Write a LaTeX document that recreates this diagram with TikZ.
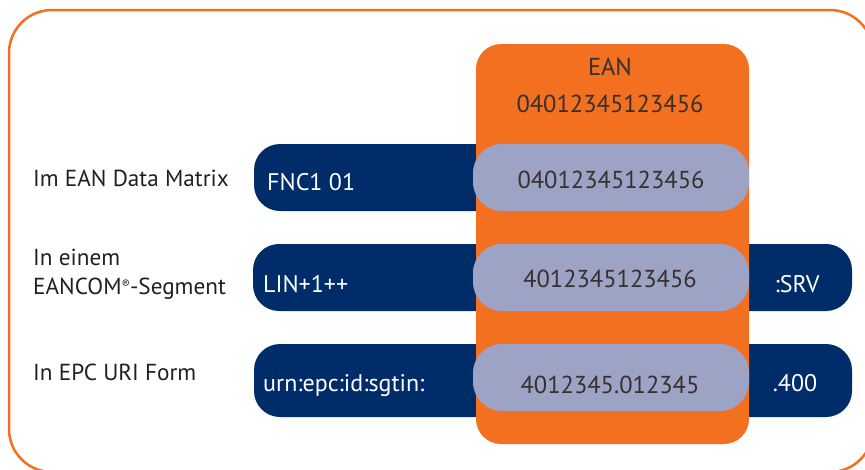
\documentclass[tikz,border=0pt]{standalone}
\usepackage{fontspec}
\setmainfont{PT Sans}
\definecolor{eanorange}{RGB}{243,112,33}
\definecolor{eanblue}{RGB}{0,45,106}
\definecolor{eangray}{RGB}{157,163,197}
\definecolor{eantext}{RGB}{55,48,45}
\definecolor{lbltext}{RGB}{35,31,32}
\tikzset{
  lbl/.style={anchor=base west, inner sep=0pt, text=lbltext, font=\fontsize{23.2}{29}\selectfont},
  bluetxt/.style={inner sep=0pt, text=white, font=\fontsize{24}{30}\selectfont},
  codetxt/.style={anchor=base, inner sep=0pt, text=eantext, font=\fontsize{24.5}{30}\selectfont},
  bluebar/.style={fill=eanblue, rounded corners=26pt},
  graypill/.style={fill=eangray, rounded corners=29pt},
}
\begin{document}
\begin{tikzpicture}[x=1pt,y=-1pt]
\useasboundingbox (0,0) rectangle (865,469);
% outer frame
\draw[eanorange, line width=2.5pt, rounded corners=43pt] (9,10) rectangle (873,472);
% blue bars
\fill[bluebar] (254,144) rectangle (600,211);
\fill[bluebar] (253,244) rectangle (852,311);
\fill[bluebar] (254,344) rectangle (852,417);
% orange column
\fill[eanorange, rounded corners=25pt] (476,44) rectangle (749,444);
% gray pills
\fill[graypill] (473,144) rectangle (749,211);
\fill[graypill] (473,244) rectangle (749,311);
\fill[graypill] (473,344) rectangle (749,411);
% texts in orange column
\node[codetxt] (eanhead) at (610,75) {EAN};
\node[codetxt] (eancode) at (610,112) {04012345123456};
% left labels
\node[lbl] (l1) at (33,186) {Im EAN Data Matrix};
\node[lbl] (l2a) at (33,265) {In einem};
\node[lbl] (l2b) at (33,294) {EANCOM{\fontsize{12}{12}\selectfont\raisebox{6pt}{®}}-Segment};
\node[lbl] (l3) at (33,380) {In EPC URI Form};
% row 1
\node[bluetxt, anchor=base west] (p1) at (267,190) {FNC1 01};
\node[codetxt] (c1) at (611,188) {04012345123456};
% row 2
\node[bluetxt, anchor=base west] (p2) at (263,292) {LIN+1++};
\node[codetxt] (c2) at (610,287) {4012345123456};
\node[bluetxt, anchor=base] (s2) at (797,292) {:SRV};
% row 3
\node[bluetxt, anchor=base west] (p3) at (263,391) {urn:epc:id:sgtin:};
\node[codetxt] (c3) at (610,393) {4012345.012345};
\node[bluetxt, anchor=base] (s3) at (795,391) {.400};
\end{tikzpicture}
\end{document}
